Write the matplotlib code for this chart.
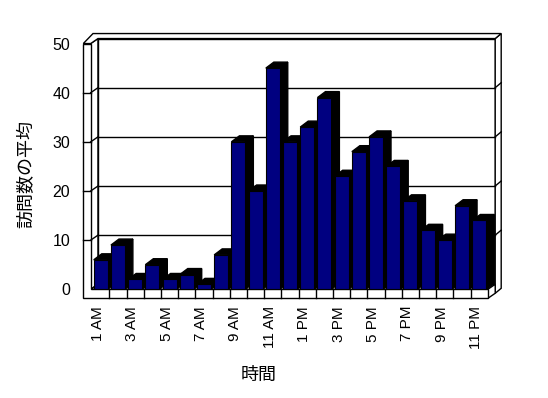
"""Average visits per hour, drawn as an Excel-style 3D column chart."""
import matplotlib

matplotlib.use("Agg")
import matplotlib.pyplot as plt
from matplotlib.lines import Line2D
from matplotlib.patches import Polygon
from matplotlib.transforms import IdentityTransform, ScaledTranslation

plt.rcParams["font.family"] = ["Liberation Sans", "Noto Sans CJK JP"]

# --- data -------------------------------------------------------------------
hours = [
    "1 AM", "2 AM", "3 AM", "4 AM", "5 AM", "6 AM", "7 AM", "8 AM",
    "9 AM", "10 AM", "11 AM", "12 PM", "1 PM", "2 PM", "3 PM", "4 PM",
    "5 PM", "6 PM", "7 PM", "8 PM", "9 PM", "10 PM", "11 PM",
]
visits = [6, 9, 2, 5, 2, 3, 1, 7, 30, 20, 45, 30, 33, 39, 23, 28, 31, 25, 18, 12, 10, 17, 14]
y_ticks = [0, 10, 20, 30, 40, 50]
x_tick_pos = list(range(0, len(hours), 2))
x_tick_labels = [hours[i] for i in x_tick_pos]

# --- look (pixels) ------------------------------------------------------------
FRONT_COLOR = "#000080"
BACK = (7.3, 5.0)        # shift from front plane to back wall
BAR_DEPTH = (8.0, 6.0)   # visible depth of a column
OUT_L, IN_L = -8.8, -1.4  # left wall edges relative to first category
TOP_T, RIGHT_T = 5.0, 6.0
FLOOR_T = 9.0
BAR_W = 0.81

fig = plt.figure(figsize=(5.48, 3.98), dpi=100)
fig.patch.set_facecolor("white")
ax = fig.add_axes([92.1 / 548, 108.7 / 398, 395.8 / 548, 245.75 / 398])
ax.set_xlim(-0.5, len(hours) - 0.5)
ax.set_ylim(y_ticks[0], y_ticks[-1])
ax.set_frame_on(False)
ax.patch.set_visible(False)

x0, x1 = ax.get_xlim()
v0, v1 = ax.get_ylim()


def px(x, v, dx=0.0, dy=0.0):
    X, Y = ax.transData.transform((x, v))
    return X + dx, Y + dy


def face(points, color="white", z=1.0):
    ax.add_patch(Polygon(points, closed=True, facecolor=color, edgecolor="black",
                         linewidth=1, transform=IdentityTransform(), clip_on=False, zorder=z))


def seg(points, z=1.2):
    xs, ys = zip(*points)
    ax.add_line(Line2D(xs, ys, color="black", linewidth=1,
                       transform=IdentityTransform(), clip_on=False, zorder=z))


# --- walls and floor ------------------------------------------------------------
fo_top = px(x0, v1, OUT_L)
fi_top = px(x0, v1, IN_L)
fi_bot = px(x0, v0, IN_L)
fr_top = px(x1, v0)
fr_bot = px(x1, v0, 0, -FLOOR_T)
fo_low = px(x0, v0, OUT_L, -FLOOR_T)
bi_tl = px(x0, v1, IN_L + BACK[0], BACK[1])
bi_bl = px(x0, v0, IN_L + BACK[0], BACK[1])
bi_tr = px(x1, v1, *BACK)
bi_br = px(x1, v0, *BACK)
bi_floor = px(x1, v0, BACK[0], BACK[1] - FLOOR_T)
bo_tl = px(x0, v1, OUT_L + 9.7, BACK[1] + TOP_T)
bo_tr = px(x1, v1, BACK[0] + RIGHT_T, BACK[1] + TOP_T)
bo_br = px(x1, v0, BACK[0] + RIGHT_T, BACK[1] + TOP_T - FLOOR_T)

face([fi_top, bi_tl, bi_bl, fi_bot])                       # left wall, inner side
face([bi_tl, bi_tr, bi_br, bi_bl])                         # back wall
face([bi_tr, bo_tr, bo_br, bi_floor])                      # right edge of back wall
face([fo_top, bo_tl, bo_tr, bi_tr, bi_tl, fi_top])         # top edges
face([fi_bot, fr_top, bi_br, bi_bl])                       # floor top
face([fr_top, bi_br, bi_floor, fr_bot])                    # floor right side
face([fo_top, fi_top, fi_bot, fr_top, fr_bot, fo_low])     # front of wall + floor

for k in range(1, len(hours)):
    seg([px(k - 0.5, v0), px(k - 0.5, v0, 0, -FLOOR_T)])

for v in y_ticks[1:-1]:
    seg([px(x0, v, OUT_L), px(x0, v, IN_L)])
    seg([px(x0, v, IN_L), px(x0, v, IN_L + BACK[0], BACK[1])])
    seg([px(x0, v, IN_L + BACK[0], BACK[1]), px(x1, v, *BACK)])
    seg([px(x1, v, *BACK), px(x1, v, BACK[0] + RIGHT_T, BACK[1] + TOP_T)])

# --- columns ------------------------------------------------------------------------
bars = ax.bar(range(len(hours)), visits, width=BAR_W, color=FRONT_COLOR,
              edgecolor="black", linewidth=0.8)
for i, (rect, v) in enumerate(zip(bars, visits)):
    xl, xr = i - BAR_W / 2, i + BAR_W / 2
    z = 2 + i * 0.01
    face([px(xr, 0), px(xr, v), px(xr, v, *BAR_DEPTH), px(xr, 0, *BAR_DEPTH)], "black", z)
    face([px(xl, v), px(xr, v), px(xr, v, *BAR_DEPTH), px(xl, v, *BAR_DEPTH)], "black", z)
    rect.set_zorder(z + 0.005)

# --- labels --------------------------------------------------------------------------
ax.set_xticks(x_tick_pos, x_tick_labels, rotation=90, fontsize=11)
ax.set_yticks(y_ticks, [str(t) for t in y_ticks], fontsize=11.5)
ax.tick_params(axis="x", length=0, pad=12)
ax.tick_params(axis="y", length=0, pad=15.8)
shift = ScaledTranslation(-0.03, 0, fig.dpi_scale_trans)
for lab in ax.get_xticklabels():
    lab.set_transform(lab.get_transform() + shift)

fig.text(27 / 548, 1 - 173.5 / 398, "訪問数の平均", rotation=90,
         ha="center", va="center", fontsize=13)
fig.text(259 / 548, 1 - 375 / 398, "時間", ha="center", va="center", fontsize=13)

fig.savefig("out.png", dpi=100, facecolor="white")
